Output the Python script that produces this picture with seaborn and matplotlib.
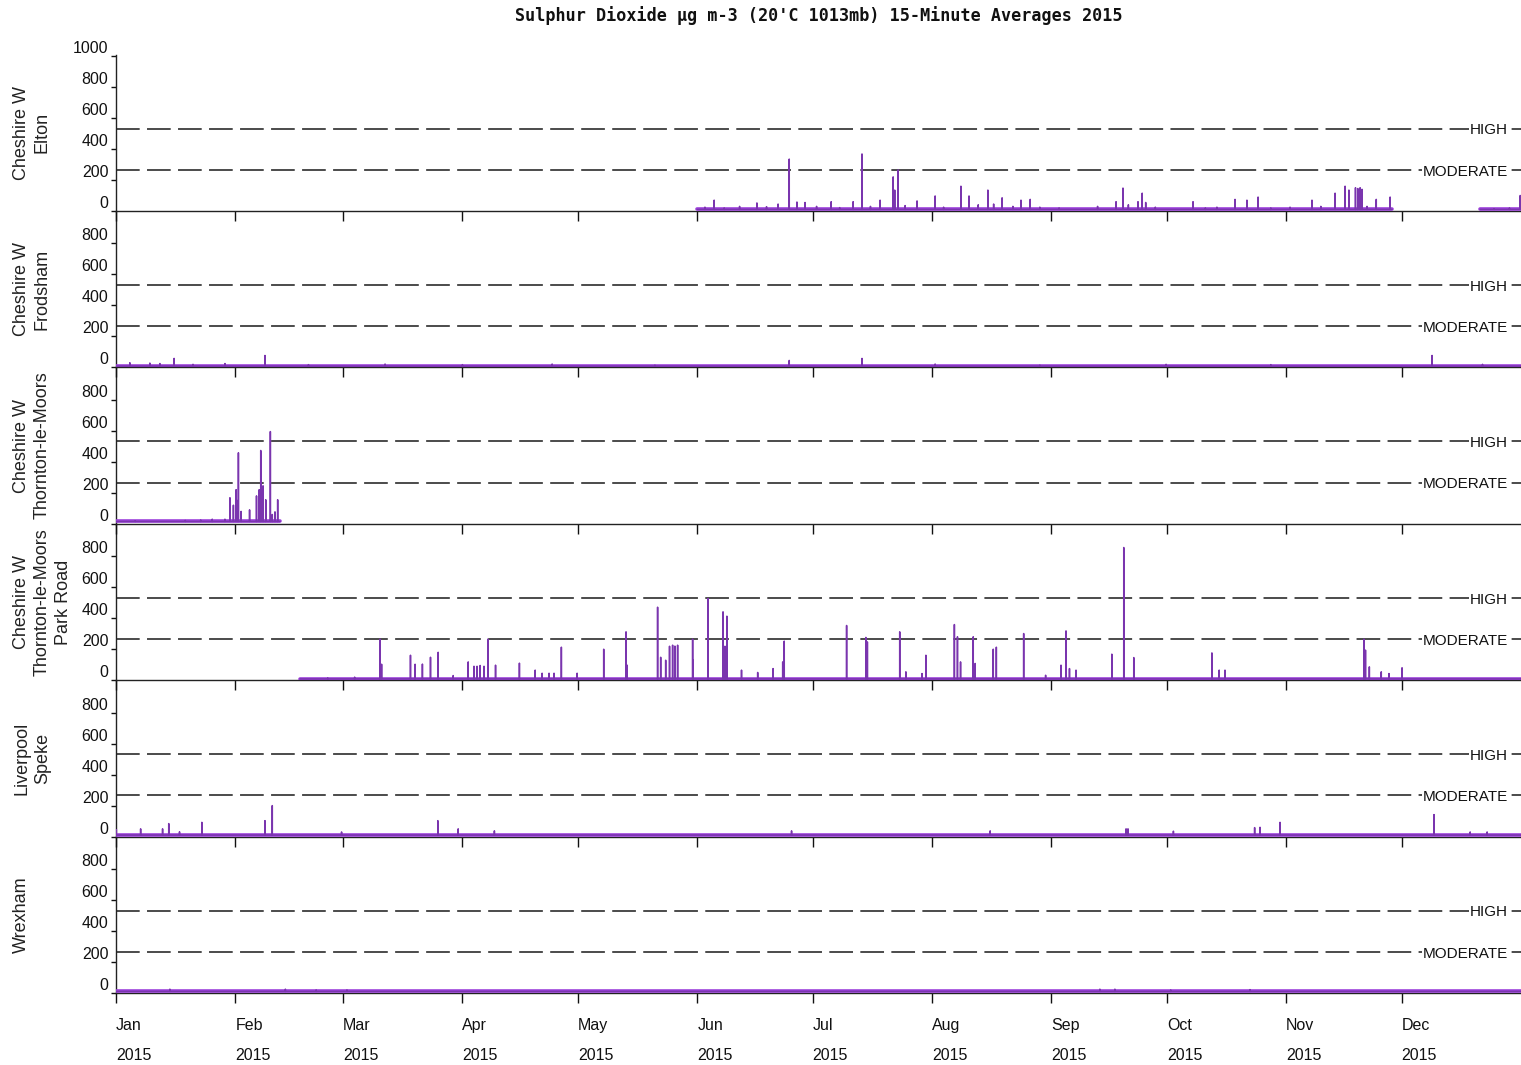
import numpy as np
import pandas as pd
import matplotlib
matplotlib.use("Agg")
import matplotlib.pyplot as plt
import seaborn as sns

# ---------------- data ----------------
YEAR_START = "2015-01-01"
YEAR_END = "2016-01-01"

STATIONS = ["Cheshire W\nElton", "Cheshire W\nFrodsham", "Cheshire W\nThornton-le-Moors",
            "Cheshire W\nThornton-le-Moors\nPark Road", "Liverpool\nSpeke", "Wrexham"]

HIGH_LEVEL = 532
MODERATE_LEVEL = 266

# coverage periods (day of year, start/end) and typical background level
elton_cover = [(151.0, 331.5), (354.4, 365.0)]
elton_base = 10
elton_days = [153.0, 155.4, 158.0, 162.0, 166.5, 169.0, 172.0, 174.9, 176.9, 179.0, 182.0, 185.8,
              188.0, 191.5, 193.8, 196.0, 198.5, 201.9, 202.3, 203.2, 205.0, 208.1, 212.8, 215.0,
              219.5, 221.6, 224.0, 226.5, 228.0, 230.2, 233.0, 235.1, 237.5, 240.0, 245.0, 255.0,
              259.8, 261.6, 263.0, 265.5, 266.6, 267.5, 270.0, 279.8, 283.0, 286.0, 290.7, 293.8,
              296.7, 300.0, 305.0, 310.7, 313.0, 316.7, 319.3, 320.3, 322.0, 322.6, 323.2, 323.7,
              325.0, 327.4, 331.0, 358.0, 362.0, 364.8]
elton_vals = [25, 70, 20, 30, 52, 28, 45, 335, 58, 55, 30, 60,
              22, 60, 368, 30, 70, 220, 135, 265, 35, 65, 97, 25,
              160, 97, 40, 135, 45, 85, 30, 70, 75, 25, 20, 30,
              60, 148, 40, 60, 115, 55, 25, 60, 20, 25, 75, 70,
              90, 20, 25, 70, 30, 115, 160, 135, 150, 145, 150, 140,
              30, 75, 90, 15, 20, 100]

frodsham_cover = [(0.0, 365.0)]
frodsham_base = 8
frodsham_days = [3.6, 8.8, 11.4, 15.1, 20.0, 28.3, 38.7, 50.0, 69.9, 90.0, 113.3, 140.0,
                 174.9, 193.8, 212.8, 240.0, 272.8, 300.0, 341.9, 355.0]
frodsham_vals = [30, 28, 25, 58, 20, 25, 77, 18, 22, 18, 22, 15,
                 45, 58, 22, 15, 20, 18, 77, 20]

thornton_cover = [(0.0, 42.6)]
thornton_base = 15
thornton_days = [5.0, 18.0, 22.0, 25.0, 28.3, 29.6, 30.5, 31.2, 31.5, 31.8, 32.5, 34.7,
                 36.5, 37.2, 37.6, 38.2, 38.9, 40.1, 40.6, 41.3, 42.0]
thornton_vals = [20, 22, 25, 30, 30, 168, 120, 220, 150, 458, 80, 90,
                 180, 220, 473, 245, 155, 595, 60, 77, 155]

parkroad_cover = [(47.8, 365.0)]
parkroad_base = 8
parkroad_days = [55.0, 62.0, 68.6, 69.0, 76.5, 77.7, 79.6, 81.7, 83.7, 87.6, 91.5, 93.0,
                 93.8, 94.6, 95.6, 96.6, 98.6, 104.8, 108.9, 110.7, 112.5, 113.8, 115.7, 119.8,
                 126.7, 132.5, 132.8, 140.7, 141.5, 142.8, 143.8, 144.6, 145.2, 145.9, 149.8, 149.9,
                 153.8, 157.7, 158.2, 158.7, 162.5, 166.7, 170.7, 173.2, 173.6, 189.8, 194.8, 195.2,
                 203.6, 205.2, 209.4, 210.4, 217.8, 218.6, 219.4, 222.7, 223.2, 227.9, 228.7, 235.8,
                 241.5, 245.5, 246.8, 247.7, 249.4, 258.7, 261.8, 264.4, 284.7, 286.6, 288.1, 324.2,
                 324.6, 325.6, 328.7, 330.7, 334.1]
parkroad_vals = [15, 20, 265, 103, 161, 103, 104, 148, 180, 30, 118, 90,
                 90, 95, 90, 265, 97, 110, 65, 45, 45, 45, 213, 45,
                 200, 312, 97, 471, 148, 129, 219, 226, 220, 226, 265, 129,
                 527, 441, 219, 413, 65, 50, 75, 118, 252, 353, 276, 247,
                 312, 54, 43, 161, 359, 280, 118, 280, 108, 200, 213, 301,
                 32, 97, 318, 75, 65, 168, 856, 146, 176, 65, 65, 265,
                 194, 86, 54, 43, 80]

speke_cover = [(0.0, 365.0)]
speke_base = 10
speke_days = [0.08, 6.4, 12.1, 13.7, 16.5, 22.3, 38.7, 40.6, 58.6, 83.6, 88.9, 98.3,
              175.5, 227.1, 262.4, 262.9, 274.7, 295.8, 297.2, 302.4, 342.4, 351.8, 356.2]
speke_vals = [45, 50, 50, 84, 31, 92, 103, 200, 30, 103, 50, 37,
              37, 37, 50, 50, 35, 58, 60, 92, 142, 30, 30]

wrexham_cover = [(0.0, 365.0)]
wrexham_base = 10
wrexham_days = [14.0, 44.0, 52.0, 60.0, 255.6, 259.5, 274.0, 294.6]
wrexham_vals = [25, 25, 20, 20, 25, 25, 20, 22]

COVERS = [elton_cover, frodsham_cover, thornton_cover, parkroad_cover, speke_cover, wrexham_cover]
BASES = [elton_base, frodsham_base, thornton_base, parkroad_base, speke_base, wrexham_base]
DAYS = [elton_days, frodsham_days, thornton_days, parkroad_days, speke_days, wrexham_days]
VALS = [elton_vals, frodsham_vals, thornton_vals, parkroad_vals, speke_vals, wrexham_vals]

MONTH_LABELS = ["Jan\n2015", "Feb\n2015", "Mar\n2015", "Apr\n2015", "May\n2015", "Jun\n2015",
                "Jul\n2015", "Aug\n2015", "Sep\n2015", "Oct\n2015", "Nov\n2015", "Dec\n2015"]

# ---------------- build 15-minute style series ----------------
T0 = pd.Timestamp(YEAR_START)
STEP = 1.0 / 96.0  # one 15-minute period, in days


def to_time(d):
    return T0 + pd.to_timedelta(np.asarray(d, dtype=float), unit="D")


def build_series(cover, base, days, vals):
    rows = []
    for seg, (a, b) in enumerate(cover):
        pts = [(a, base)]
        for d, v in sorted(zip(days, vals)):
            if a <= d <= b:
                pts += [(d - STEP, base), (d, v), (d + STEP, base)]
        pts.append((b, base))
        for d, v in pts:
            rows.append((d, v, seg))
    df = pd.DataFrame(rows, columns=["day", "value", "segment"])
    df["time"] = to_time(df["day"])
    return df


def build_base(cover, base):
    rows = []
    for seg, (a, b) in enumerate(cover):
        rows += [(a, base, seg), (b, base, seg)]
    df = pd.DataFrame(rows, columns=["day", "value", "segment"])
    df["time"] = to_time(df["day"])
    return df


# ---------------- style ----------------
sns.set_style("ticks")
plt.rcParams["font.family"] = ["Liberation Sans Narrow", "Liberation Sans", "DejaVu Sans"]
plt.rcParams["axes.linewidth"] = 1.0

W, H = 1521, 1065
fig = plt.figure(figsize=(W / 100, H / 100), dpi=100)
axes = fig.subplots(6, 1, sharex=True, gridspec_kw=dict(hspace=0))
fig.subplots_adjust(left=116 / W, right=1.0, top=1 - 54.6 / H, bottom=1 - 993 / H)

SPIKE_COLOR = "#7A35AE"
BASE_COLOR = "#9B3FDA"
DASH = (0, (15.5, 4.8))

month_ticks = pd.date_range(YEAR_START, periods=12, freq="MS")

for i, ax in enumerate(axes):
    ax.set_facecolor("none")
    ax.set_zorder(10 - i)
    ser = build_series(COVERS[i], BASES[i], DAYS[i], VALS[i])
    bas = build_base(COVERS[i], BASES[i])
    sns.lineplot(data=bas, x="time", y="value", units="segment", estimator=None,
                 color=BASE_COLOR, lw=2.6, ax=ax, zorder=3)
    sns.lineplot(data=ser, x="time", y="value", units="segment", estimator=None,
                 color=SPIKE_COLOR, lw=1.1, ax=ax, zorder=4, sort=False)

    ax.axhline(HIGH_LEVEL, color="#1a1a1a", lw=1.1, linestyle=DASH, zorder=2)
    ax.axhline(MODERATE_LEVEL, color="#1a1a1a", lw=1.1, linestyle=DASH, zorder=2)
    for lvl, txt in [(HIGH_LEVEL, "HIGH"), (MODERATE_LEVEL, "MODERATE")]:
        ax.text(0.9907, lvl - 12, txt, transform=ax.get_yaxis_transform(), ha="right", va="center",
                fontsize=11, family=["Liberation Sans", "DejaVu Sans"], color="#111111", zorder=5,
                bbox=dict(fc="white", ec="none", pad=0.6))

    ax.set_ylim(0, 1009)
    ax.set_xlim(pd.Timestamp(YEAR_START), pd.Timestamp(YEAR_END))
    yt = [0, 200, 400, 600, 800, 1000] if i == 0 else [0, 200, 400, 600, 800]
    ax.set_yticks(yt, [str(v) for v in yt], va="bottom", fontsize=11.5)
    ax.tick_params(axis="y", length=3.5, width=1.0, direction="out", pad=2, colors="#111111")
    ax.tick_params(axis="x", length=7.2, width=1.0, direction="out", colors="#111111")
    ax.set_xticks(month_ticks)
    ax.set_xlabel("")
    ax.set_ylabel("")
    for s in ["top", "right"]:
        ax.spines[s].set_visible(False)
    ax.spines["left"].set_color("#222222")
    ax.spines["bottom"].set_color("#222222")
    if i < 5:
        ax.tick_params(axis="x", labelbottom=False)

    # station label to the left
    pos = ax.get_position()
    fig.text(13 / W, (pos.y0 + pos.y1) / 2, STATIONS[i], rotation=90, ha="left", va="center",
             multialignment="center", fontsize=13, linespacing=1.3,
             family=["Liberation Sans", "DejaVu Sans"], color="#222222")

axes[-1].set_xticks(month_ticks, MONTH_LABELS, ha="left", linespacing=2.2, fontsize=11.5)
axes[-1].tick_params(axis="x", pad=11)

fig.text((116 + 1521) / 2 / W, 1 - 16 / H,
         "Sulphur Dioxide µg m-3 (20'C 1013mb) 15-Minute Averages 2015",
         ha="center", va="center", fontsize=12.1, fontweight="bold",
         family=["DejaVu Sans Mono"], color="#111111")

fig.savefig("out.png", dpi=100)
